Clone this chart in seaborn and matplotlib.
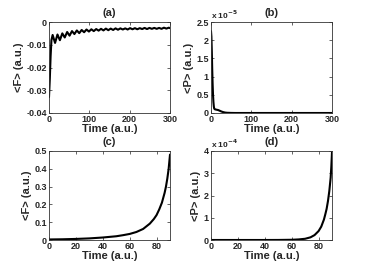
import matplotlib
matplotlib.use("Agg")
import matplotlib.pyplot as plt
import seaborn as sns
import pandas as pd
from matplotlib.ticker import FuncFormatter, FixedLocator

# ---- data ----
t_a = [0, 2, 4, 6, 9, 15, 21, 27, 33, 39, 45, 51, 57, 63, 69, 75, 81, 87, 93, 99,
       105, 111, 117, 123, 129, 135, 141, 147, 153, 159, 165, 171, 177, 183, 189,
       195, 201, 207, 213, 219, 225, 231, 237, 243, 249, 255, 261, 267, 273, 279,
       285, 291, 297, 300]
f_a = [-0.033, -0.025, -0.015, -0.008, -0.0057, -0.0092, -0.0055, -0.0080, -0.0050,
       -0.0068, -0.0044, -0.0060, -0.0040, -0.0053, -0.0037, -0.0049, -0.0035,
       -0.0045, -0.0033, -0.0042, -0.0032, -0.0040, -0.0031, -0.0038, -0.0030,
       -0.0037, -0.0029, -0.0036, -0.0029, -0.0035, -0.0028, -0.0034, -0.0028,
       -0.0033, -0.0028, -0.0033, -0.0027, -0.0032, -0.0027, -0.0032, -0.0027,
       -0.0031, -0.0026, -0.0031, -0.0026, -0.0030, -0.0026, -0.0030, -0.0026,
       -0.0030, -0.0025, -0.0029, -0.0025, -0.0027]

t_b = [0, 1, 2, 3, 4, 5, 6, 7, 8, 10, 14, 18, 22, 26, 30, 35, 40, 50, 60, 100, 200, 300]
p_b = [2.25e-5, 2.1e-5, 1.7e-5, 1.2e-5, 0.8e-5, 0.5e-5, 0.3e-5, 0.18e-5, 0.12e-5,
       0.1e-5, 0.09e-5, 0.08e-5, 0.06e-5, 0.04e-5, 0.025e-5, 0.012e-5, 0.006e-5,
       0.002e-5, 0.0, 0.0, 0.0, 0.0]

t_c = [0, 10, 20, 30, 40, 50, 55, 60, 65, 70, 75, 78, 80, 82, 84, 86, 87, 88, 89, 90]
f_c = [0.003, 0.004, 0.006, 0.009, 0.014, 0.021, 0.027, 0.034, 0.045, 0.062, 0.092,
       0.118, 0.14, 0.172, 0.21, 0.265, 0.3, 0.345, 0.4, 0.48]

t_d = [0, 20, 40, 50, 60, 65, 70, 74, 77, 80, 82, 84, 85, 86, 87, 88, 89, 89.5, 90]
p_d = [0.0, 0.0, 0.0, 0.002e-4, 0.01e-4, 0.025e-4, 0.055e-4, 0.12e-4, 0.22e-4,
       0.4e-4, 0.6e-4, 0.92e-4, 1.15e-4, 1.4e-4, 1.75e-4, 2.2e-4, 2.8e-4, 3.3e-4,
       3.95e-4]

sns.set_style("ticks")
plt.rcParams['font.family'] = ['Liberation Sans', 'DejaVu Sans']
plt.rcParams['font.weight'] = 'bold'
plt.rcParams['axes.labelweight'] = 'bold'
plt.rcParams['axes.titleweight'] = 'bold'

fig = plt.figure(figsize=(3.67, 2.71), dpi=100)
fig.patch.set_facecolor('white')

W, H = 367.0, 271.0
def pos(l, r, t, b):
    return [l / W, 1 - b / H, (r - l) / W, (b - t) / H]

axa = fig.add_axes(pos(49, 170, 22, 113))
axb = fig.add_axes(pos(211, 332, 22, 113))
axc = fig.add_axes(pos(49, 170, 151, 240))
axd = fig.add_axes(pos(211, 332, 151, 240))

specs = [
    (axa, t_a, f_a, "(a)", "<F> (a.u.)", (0, 300), [0, 100, 200, 300], (-0.04, 0), [-0.04, -0.03, -0.02, -0.01, 0], None),
    (axb, t_b, p_b, "(b)", "<P> (a.u.)", (0, 300), [0, 100, 200, 300], (0, 2.5e-5), [0, 0.5e-5, 1e-5, 1.5e-5, 2e-5, 2.5e-5], -5),
    (axc, t_c, f_c, "(c)", "<F> (a.u.)", (0, 90), [0, 20, 40, 60, 80], (0, 0.5), [0, 0.1, 0.2, 0.3, 0.4, 0.5], None),
    (axd, t_d, p_d, "(d)", "<P> (a.u.)", (0, 90), [0, 20, 40, 60, 80], (0, 4e-4), [0, 1e-4, 2e-4, 3e-4, 4e-4], -4),
]

for ax, tx, ty, title, ylab, xl, xt, yl, yt, exp in specs:
    df = pd.DataFrame({"t": tx, "v": ty})
    sns.lineplot(data=df, x="t", y="v", ax=ax, color="black", lw=1.5)
    ax.set_xlim(*xl)
    ax.set_ylim(*yl)
    ax.xaxis.set_major_locator(FixedLocator(xt))
    ax.yaxis.set_major_locator(FixedLocator(yt))
    if exp is None:
        ax.yaxis.set_major_formatter(FuncFormatter(lambda v, p: "0" if abs(v) < 1e-12 else ("%g" % v)))
    else:
        sc = 10.0 ** exp
        ax.yaxis.set_major_formatter(FuncFormatter(lambda v, p, sc=sc: "%g" % round(v / sc, 3)))
        ax.text(0.0, 1.01, r"x 10$^{%d}$" % exp, transform=ax.transAxes,
                fontsize=6, fontweight='bold', ha='left', va='bottom')
    ax.xaxis.set_major_formatter(FuncFormatter(lambda v, p: "%g" % v))
    ax.tick_params(direction='in', length=2, width=0.5, labelsize=6.5,
                   top=True, right=True, pad=1.5)
    for lab in ax.get_xticklabels() + ax.get_yticklabels():
        lab.set_fontweight('bold')
    for s in ax.spines.values():
        s.set_linewidth(0.6)
        s.set_visible(True)
        s.set_color('#333333')
    ax.set_xlabel("Time (a.u.)", fontsize=8, fontweight='bold', labelpad=0)
    ax.set_ylabel(ylab, fontsize=8, fontweight='bold', labelpad=2)
    ax.set_title(title, fontsize=8, fontweight='bold', pad=4)

fig.savefig("out.png", dpi=100, facecolor='white')
